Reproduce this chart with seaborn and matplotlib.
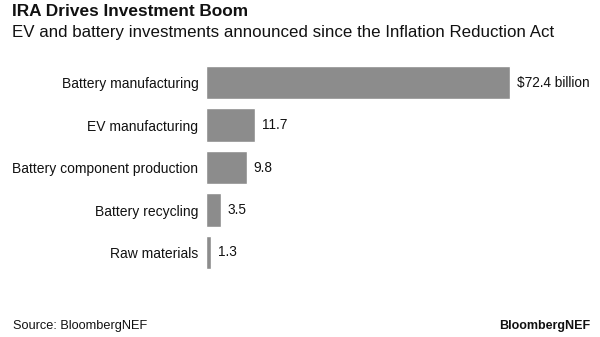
import matplotlib
matplotlib.use("Agg")
import matplotlib.pyplot as plt
import seaborn as sns
import pandas as pd

categories = ["Battery manufacturing", "EV manufacturing", "Battery component production",
              "Battery recycling", "Raw materials"]
values = [72.4, 11.7, 9.8, 3.5, 1.3]
value_labels = ["$72.4 billion", "11.7", "9.8", "3.5", "1.3"]

sns.set_theme(style="white")
plt.rcParams["font.family"] = ["Liberation Sans", "DejaVu Sans"]

df = pd.DataFrame({"category": categories, "value": values})

fig = plt.figure(figsize=(6.0, 3.37), dpi=100)
ax = fig.add_axes([206 / 600, 1 - 273.75 / 337, (590 - 206) / 600, (273.75 - 61.25) / 337])

sns.barplot(data=df, x="value", y="category", orient="h", color="#8c8c8c",
            saturation=1, width=0.78, ax=ax)

px_per_unit = 4.2
ax.set_xlim(0, 384 / px_per_unit)
ax.set_ylim(4.5, -0.5)
ax.set_xlabel("")
ax.set_ylabel("")
ax.set_xticks([])
for s in ax.spines.values():
    s.set_visible(False)
ax.tick_params(axis="y", length=0, pad=5.5, labelsize=10, labelcolor="#111111")

for i, (v, lab) in enumerate(zip(values, value_labels)):
    ax.text(v + 6.5 / px_per_unit, i, lab, va="center", ha="left", fontsize=9.8,
            color="#111111")

fig.text(12 / 600, 1 - 12 / 337, "IRA Drives Investment Boom", fontsize=12.4,
         fontweight="bold", color="#111111", va="center", ha="left")
fig.text(12 / 600, 1 - 32.5 / 337,
         "EV and battery investments announced since the Inflation Reduction Act",
         fontsize=12.2, color="#111111", va="center", ha="left")
fig.text(13 / 600, 1 - 326 / 337, "Source: BloombergNEF", fontsize=9.2,
         color="#111111", va="center", ha="left")
fig.text(590 / 600, 1 - 326 / 337, "BloombergNEF", fontsize=9, fontweight="bold",
         color="#111111", va="center", ha="right")

fig.savefig("out.png", dpi=100, facecolor="white")
